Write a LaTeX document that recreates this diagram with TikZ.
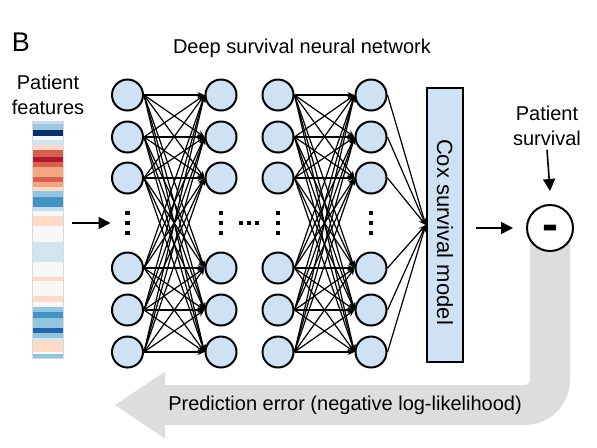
\documentclass[tikz,border=0pt]{standalone}
\usepackage{fontspec}
\setmainfont{Liberation Sans}
\usepackage{xcolor}
\usetikzlibrary{arrows.meta,backgrounds}

\definecolor{cellblue}{RGB}{207,226,243}
\definecolor{bandgray}{RGB}{221,221,221}
\definecolor{hmnv}{HTML}{08306B}
\definecolor{hmdb}{HTML}{2166AC}
\definecolor{hmmd}{HTML}{4393C3}
\definecolor{hmlb}{HTML}{92C5DE}
\definecolor{hmbb}{HTML}{9ECAE1}
\definecolor{hmpb}{HTML}{C6DBEF}
\definecolor{hmvb}{HTML}{D1E5F0}
\definecolor{hmwh}{HTML}{F7F7F7}
\definecolor{hmpc}{HTML}{FDDBC7}
\definecolor{hmsl}{HTML}{F4A582}
\definecolor{hmrd}{HTML}{D6604D}
\definecolor{hmdr}{HTML}{B2182B}

\begin{document}
\begin{tikzpicture}[
  x=0.5pt, y=-0.5pt,
  neuron/.style={circle, draw, line width=1pt, fill=cellblue,
                 minimum size=15.5pt, inner sep=0pt},
  link/.style={-{Stealth[length=3.5pt,width=3pt]}, line width=0.6pt},
  arr/.style={-{Triangle[length=6pt,width=6pt]}, line width=0.8pt},
  lbl/.style={font=\fontsize{10}{12.5}\selectfont, align=center, inner sep=0pt},
  coxbox/.style={draw, line width=1.3pt, fill=cellblue, minimum width=18pt,
                 minimum height=137pt, inner sep=0pt,
                 font=\fontsize{11}{13}\selectfont}
]
\useasboundingbox (0,0) rectangle (597,447);

\node[font=\fontsize{13.5}{16}\selectfont] (panel) at (21,42) {B};
\node[lbl] (title) at (302,48) {Deep survival neural network};
\node[lbl] (featlbl) at (48,94.5) {Patient\\features};

% heatmap of patient features
\node[minimum width=15.5pt, minimum height=118.5pt, inner sep=0pt] (feat) at (47.5,239.5) {};
\foreach \ya/\yb/\c in {121/124/hmpb, 124/130/hmbb, 130/136/hmnv, 136/140/hmwh,
  140/145/hmvb, 145/150/hmpc, 150/157/hmrd, 157/162/hmdr, 162/167/hmrd,
  167/177/hmsl, 177/182/hmrd, 182/187/hmsl, 187/191/hmpc, 191/197/hmlb,
  197/207/hmmd, 207/211/hmpb, 211/216/hmwh, 216/226/hmpc, 226/242/hmwh,
  242/262/hmvb, 262/277/hmwh, 277/281/hmpc, 281/296/hmwh, 296/302/hmpc,
  302/307/hmwh, 307/312/hmlb, 312/318/hmmd, 318/328/hmlb, 328/333/hmdb,
  333/338/hmlb, 338/341/hmvb, 341/352/hmpc, 352/354/hmwh, 354/358/hmlb}
  \fill[\c] (32,\ya) rectangle (63,\yb);
\draw[black!15, line width=0.3pt] (32,121) rectangle (63,358);

% layers
\foreach \l/\x in {a/127.5, b/221, c/278, d/371} {
  \foreach \r/\y in {1/95, 2/137, 3/178, 4/268, 5/310, 6/352}
    \node[neuron] (\l\r) at (\x,\y) {};
  \coordinate (\l0) at (\x,223);
  \foreach \y in {213,223,233}
    \fill ({\x-2.25},{\y-2.25}) rectangle ({\x+2.25},{\y+2.25});
}
\foreach \x in {241,249,257}
  \fill ({\x-2.25},220.75) rectangle ({\x+2.25},225.25);

\foreach \i in {1,...,6}
  \foreach \j in {1,...,6} {
    \draw[link] (a\i.east) -- (b\j.west);
    \draw[link] (c\i.east) -- (d\j.west);
  }

\node[coxbox] (cox) at (445,225) {\raisebox{-7pt}{\rotatebox{-90}{Cox survival model}}};
\foreach \i in {1,...,6}
  \draw[link] (d\i.east) -- (cox.west);

\node[circle, draw, line width=1pt, fill=white, minimum size=23pt, inner sep=0pt,
      font=\bfseries\fontsize{24}{24}\selectfont] (minus) at (550,228)
      {\raisebox{-6.3pt}[0pt][0pt]{-}};
\node[lbl] (surv) at (547,125.5) {Patient\\survival};

\draw[arr] ([xshift=4.5pt]feat.east |- a0) -- ([xshift=-8.5pt]a0);
\draw[arr] ([xshift=6pt]cox.east |- minus) -- ([xshift=-6.5pt]minus.west);
\draw[arr] ([yshift=-2pt]surv.south) -- ([yshift=6.5pt]minus.north);

% feedback band
\coordinate (fbtip) at (115,405);
\begin{scope}[on background layer]
  \draw[bandgray, line width=20pt, rounded corners=12.5pt,
        -{Triangle[length=25pt,width=33.5pt,line width=0pt]}]
    (minus.center) |- (fbtip);
\end{scope}
\node[lbl] (errlbl) at (345,405) {Prediction error (negative log-likelihood)};
\end{tikzpicture}
\end{document}
